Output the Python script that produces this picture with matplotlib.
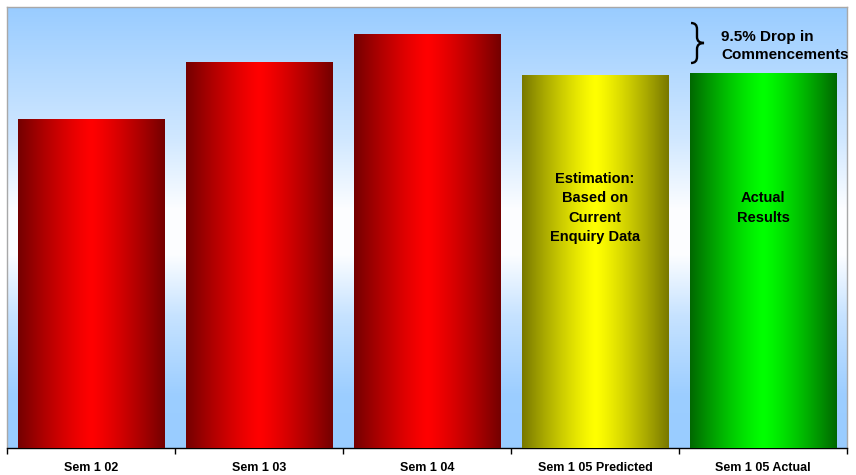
import numpy as np
import matplotlib
matplotlib.use("Agg")
import matplotlib.pyplot as plt
from matplotlib.path import Path
from matplotlib.patches import PathPatch

plt.rcParams['font.family'] = ['Liberation Sans', 'DejaVu Sans']

# ---- data ----
categories = ["Sem 1 02", "Sem 1 03", "Sem 1 04", "Sem 1 05 Predicted", "Sem 1 05 Actual"]
values = [329, 386, 414, 373, 375]
y_max = 441
bar_colors = [  # (edge, centre)
    ("#740000", "#FF0000"),
    ("#740000", "#FF0000"),
    ("#740000", "#FF0000"),
    ("#787800", "#FFFF00"),
    ("#006800", "#00FF00"),
]
bar_notes = {3: "Estimation:\nBased on\nCurrent\nEnquiry Data", 4: "Actual\nResults"}
annotation = "9.5% Drop in\nCommencements"

W, H = 856, 475
fig = plt.figure(figsize=(W / 100, H / 100), dpi=100)
fig.patch.set_facecolor("white")
ax = fig.add_axes([7 / W, 1 - 448 / H, 840 / W, 441 / H])

x = np.arange(len(categories))
width = 0.87

# background vertical gradient
blue = np.array([153, 204, 255]) / 255.0
white = np.array([1.0, 1.0, 1.0])
f = np.linspace(0, 1, 400)
mix = np.interp(f, [0.0, 0.12, 0.30, 0.44, 0.54, 0.70, 1.0],
                   [1.0, 0.97, 0.55, 0.02, 0.02, 0.45, 1.0])
bg = (mix[:, None] * blue + (1 - mix[:, None]) * white)[:, None, :]
ax.imshow(bg, extent=[-0.5, len(categories) - 0.5, 0, y_max], origin="lower",
          aspect="auto", zorder=0, interpolation="bilinear")

bars = ax.bar(x, values, width=width, color="none", edgecolor="none", zorder=2)

t = np.linspace(-1, 1, 300)
prof = 1 - np.abs(t) ** 1.25
for rect, (c_edge, c_mid) in zip(bars, bar_colors):
    e = np.array(matplotlib.colors.to_rgb(c_edge))
    m = np.array(matplotlib.colors.to_rgb(c_mid))
    grad = (e[None, :] * (1 - prof[:, None]) + m[None, :] * prof[:, None])[None, :, :]
    x0, y0 = rect.get_x(), rect.get_y()
    ax.imshow(grad, extent=[x0, x0 + rect.get_width(), y0, y0 + rect.get_height()],
              origin="lower", aspect="auto", zorder=3, interpolation="bilinear")
ax.set_xlim(-0.5, len(categories) - 0.5)
ax.set_ylim(0, y_max)

note_y = 240
for i, txt in bar_notes.items():
    ax.text(x[i], note_y, txt, ha="center", va="center", fontsize=10.5,
            fontweight="bold", linespacing=1.5, zorder=5, color="black")

# axes styling
for s in ["left", "top", "right"]:
    ax.spines[s].set_color("#A8A8A8")
    ax.spines[s].set_linewidth(1.0)
ax.spines["bottom"].set_color("black")
ax.spines["bottom"].set_linewidth(1.0)
ax.set_yticks([])
ax.set_xticks(np.arange(-0.5, len(categories), 1.0))
ax.set_xticklabels([])
ax.tick_params(axis="x", which="major", direction="out", length=4, width=1, color="black")
ax.set_xticks(x, minor=True)
ax.set_xticklabels(categories, minor=True, fontsize=9, fontweight="bold")
ax.tick_params(axis="x", which="minor", length=0, pad=10)

# annotation text + brace (figure coords)
fig.text(721 / W, 1 - 46 / H, annotation, ha="left", va="center", fontsize=11,
         fontweight="bold", linespacing=1.4)

def P(px, py):
    return (px / W, 1 - py / H)

verts = [P(691, 23), P(697, 23), P(697, 29), P(697, 37),
         P(697, 43), P(704, 43),
         P(697, 43), P(697, 49), P(697, 57),
         P(697, 63), P(691, 63)]
codes = [Path.MOVETO, Path.CURVE3, Path.CURVE3, Path.LINETO,
         Path.CURVE3, Path.CURVE3,
         Path.CURVE3, Path.CURVE3, Path.LINETO,
         Path.CURVE3, Path.CURVE3]
brace = PathPatch(Path(verts, codes), transform=fig.transFigure, fill=False,
                  edgecolor="black", linewidth=1.7)
fig.patches.append(brace)

fig.savefig("out.png", dpi=100)
